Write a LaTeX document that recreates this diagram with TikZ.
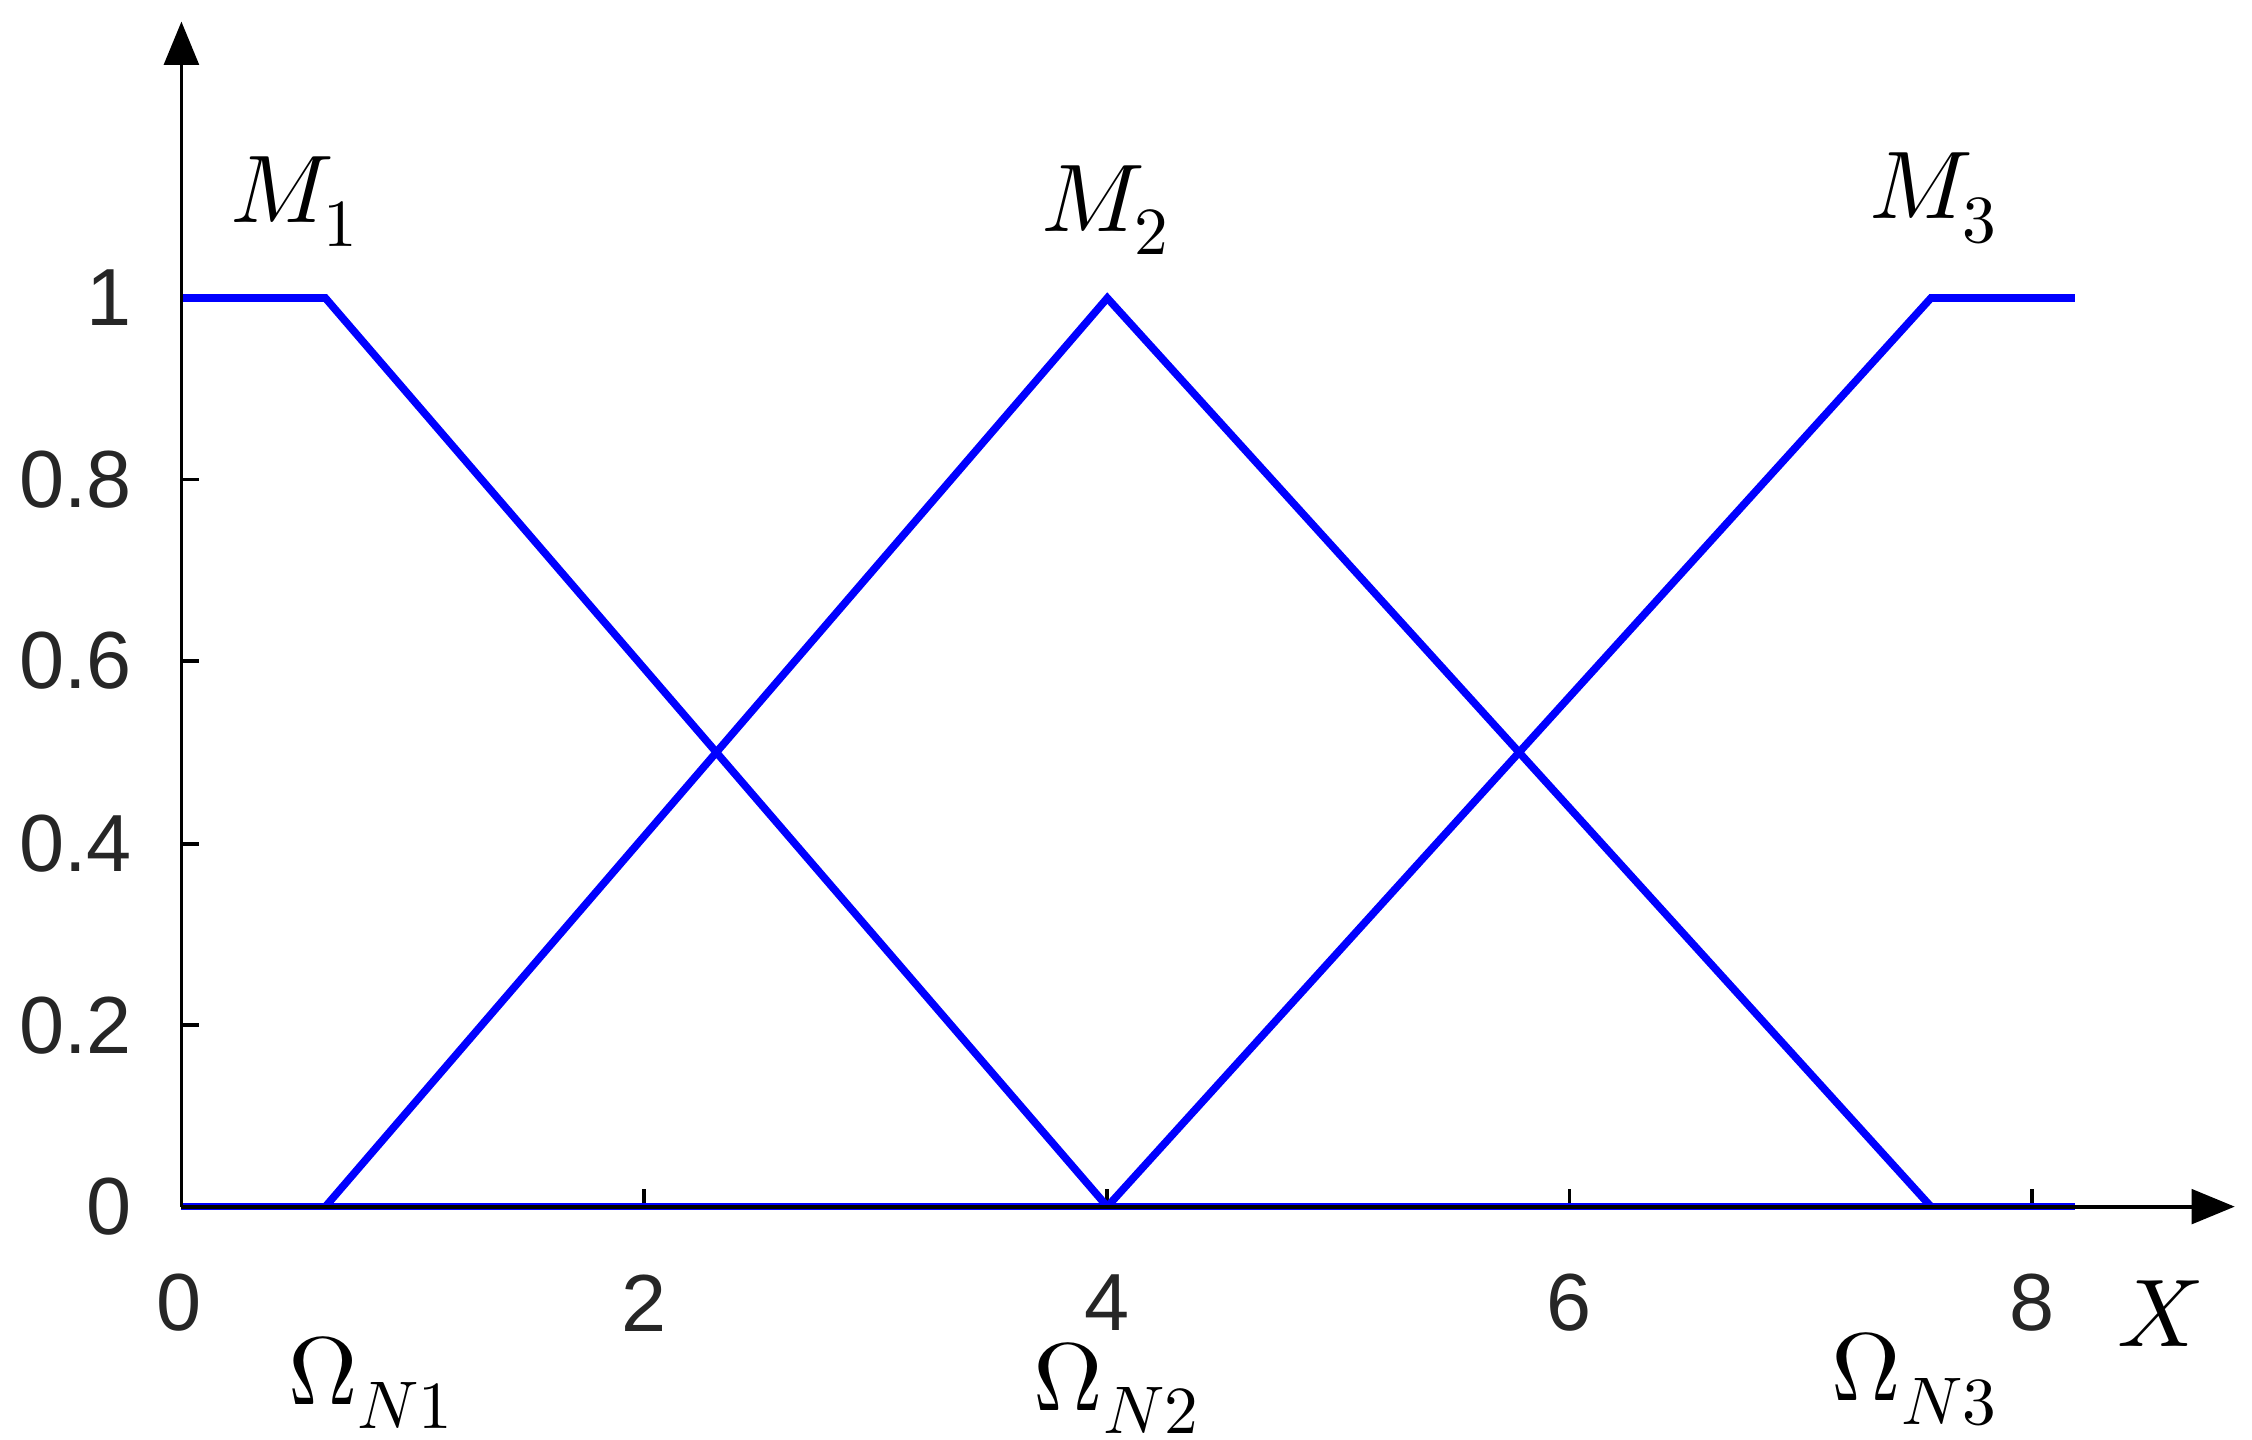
\documentclass[tikz,border=0pt]{standalone}
\usepackage{fontspec}
\setmainfont{Liberation Sans}
\usepackage{unicode-math}
\setmathfont{Latin Modern Math}
\usetikzlibrary{arrows.meta}
\begin{document}
\begin{tikzpicture}[x=0.01cm,y=0.01cm,
  ax/.style={line width=0.75pt,-{Triangle[length=0.3cm,width=0.24cm]}},
  mf/.style={blue,line width=1.5pt,line join=miter},
  tk/.style={line width=0.75pt},
  lab/.style={font=\fontsize{16}{16}\selectfont,text=black!85},
  ml/.style={font=\fontsize{19}{19}\selectfont,inner sep=1pt}]
\useasboundingbox (0,0) rectangle (1564,1000);
\coordinate (O) at (126,162);
\coordinate (Ytop) at (126,985);
\coordinate (Xend) at (1552,162);
% ticks
\foreach \x in {447,769,1090,1411} \draw[tk] (\x,162) -- (\x,174);
\foreach \y in {288,414,541,667,793} \draw[tk] (126,\y) -- (138,\y);
% membership functions
\draw[mf] (126,162) -- (1441,162);
\draw[mf] (126,793) -- (226,793) -- (769,162);
\draw[mf] (226,162) -- (769,793) -- (1341,162);
\draw[mf] (769,162) -- (1341,793) -- (1441,793);
\draw[ax] (O) -- (Ytop);
\draw[ax] (O) -- (Xend);
% y labels
\node[lab,anchor=east] (y0) at (104,162) {0};
\node[lab,anchor=east] (y2) at (104,288) {0.2};
\node[lab,anchor=east] (y4) at (104,414) {0.4};
\node[lab,anchor=east] (y6) at (104,541) {0.6};
\node[lab,anchor=east] (y8) at (104,667) {0.8};
\node[lab,anchor=east] (y10) at (104,793) {1};
% x labels
\node[lab] (x0) at (124,95) {0};
\node[lab] (x2) at (447,95) {2};
\node[lab] (x4) at (769,95) {4};
\node[lab] (x6) at (1090,95) {6};
\node[lab] (x8) at (1411,95) {8};
\node[ml] (X) at (1500,88) {$X$};
% M labels
\node[ml] (M1) at (205,860) {$M_1$};
\node[ml] (M2) at (768,854) {$M_2$};
\node[ml] (M3) at (1343,862) {$M_3$};
\node[ml] (W1) at (258,40) {$\Omega_{N1}$};
\node[ml] (W2) at (776,36) {$\Omega_{N2}$};
\node[ml] (W3) at (1330,42) {$\Omega_{N3}$};
\end{tikzpicture}
\end{document}
